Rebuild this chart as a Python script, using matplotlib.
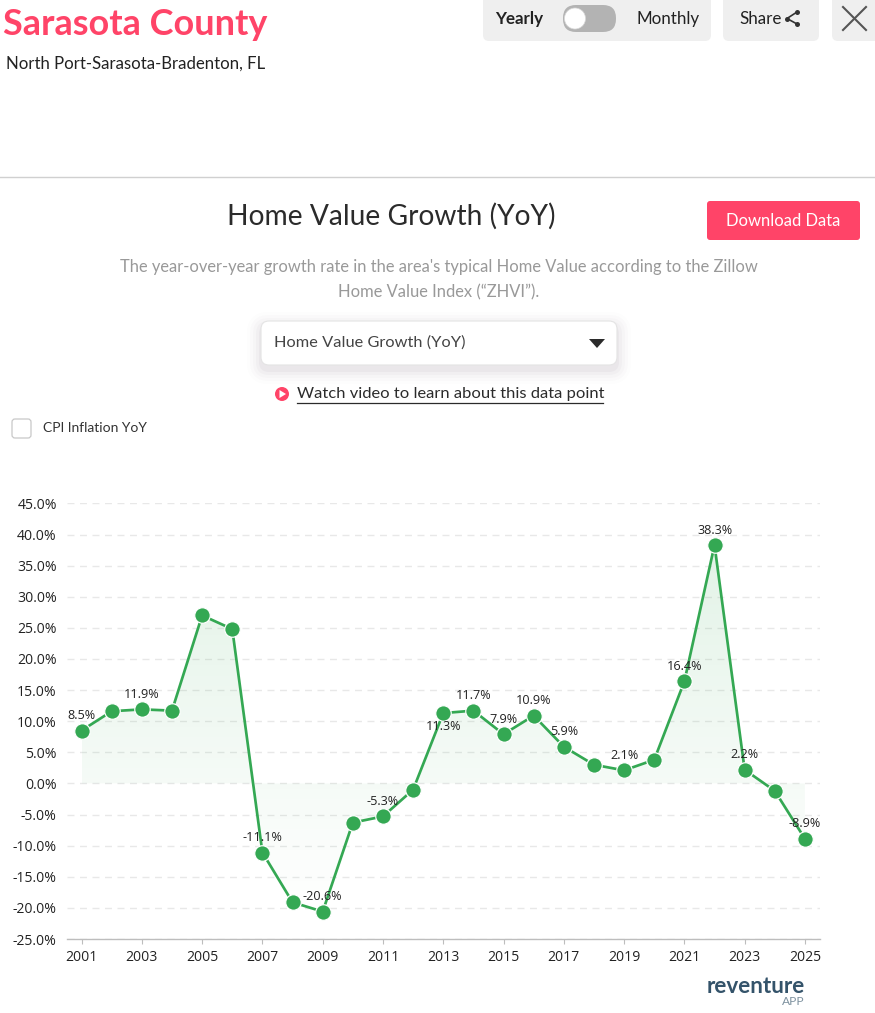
import numpy as np
import matplotlib
matplotlib.use('Agg')
import matplotlib.pyplot as plt
from matplotlib.patches import FancyBboxPatch, Circle, Polygon

# Chart data
years = list(range(2001, 2026))
growth = [8.5, 11.6, 11.9, 11.7, 27.0, 24.8, -11.1, -19.1, -20.6, -6.3, -5.3, -1.0,
          11.3, 11.7, 7.9, 10.9, 5.9, 3.0, 2.1, 3.8, 16.4, 38.3, 2.2, -1.2, -8.9]
labelled_years = [2001, 2003, 2007, 2009, 2011, 2013, 2014, 2015, 2016, 2017, 2019,
                  2021, 2022, 2023, 2025]
labels_below = [2013]
y_ticks = list(range(-25, 50, 5))
x_ticks = list(range(2001, 2026, 2))

W, H = 875, 1013
PINK = '#ff4468'
GREEN = '#34a853'
UI_FONT = ['Lato', 'DejaVu Sans']
CHART_FONT = ['Open Sans', 'DejaVu Sans']


def px(size):
    # css pixels to points at dpi 100
    return size * 0.72


fig = plt.figure(figsize=(W / 100, H / 100), dpi=100, facecolor='white')

# Overlay in pixel coordinates for the page furniture
ui = fig.add_axes([0, 0, 1, 1])
ui.set_xlim(0, W)
ui.set_ylim(H, 0)
ui.axis('off')


def box(x0, y0, x1, y1, color, radius=6, **kw):
    p = FancyBboxPatch((x0 + radius, y0 + radius), x1 - x0 - 2 * radius, y1 - y0 - 2 * radius,
                       boxstyle='round,pad=%g,rounding_size=%g' % (radius, radius),
                       facecolor=color, mutation_aspect=1, **kw)
    ui.add_patch(p)
    return p


def label(x, y, s, size, color='#333333', ha='left', weight='normal'):
    return ui.text(x, y + 1, s, fontsize=px(size), color=color, ha=ha, va='center',
                   family=UI_FONT, fontweight=weight)


# Header
label(3, 23, 'Sarasota County', 36, PINK, weight='bold')
label(6, 63, 'North Port-Sarasota-Bradenton, FL', 16.7, '#222222')

box(483, -10, 711, 41, '#efefef', edgecolor='none')
label(495, 17.5, 'Yearly', 17, '#222222', weight='bold')
box(563, 5, 616, 32, '#b3b3b3', radius=13, edgecolor='none')
ui.add_patch(Circle((575, 18.5), 10.5, facecolor='white', edgecolor='#d8d8d8', linewidth=0.5))
label(637, 17.5, 'Monthly', 17, '#222222')

box(723, -10, 819, 41, '#efefef', edgecolor='none')
label(739, 17.5, 'Share', 17, '#222222')
ui.plot([797, 787, 797], [12, 18.5, 24], color='#333333', lw=1.2)
ui.plot([797, 787, 797], [12, 18.5, 24], 'o', color='#333333', ms=3.6, mew=0)

box(832, -10, 885, 41, '#efefef', edgecolor='none')
ui.plot([843, 866], [7, 30], color='#555555', lw=1.5)
ui.plot([843, 866], [30, 7], color='#555555', lw=1.5)

ui.plot([0, W], [177, 177], color='#d0d0d0', lw=1)

# Title block
label(391, 215.5, 'Home Value Growth (YoY)', 28.1, '#2b2b2b', ha='center')
box(707, 201, 860, 240, PINK, radius=3, edgecolor='none')
label(783.5, 219.5, 'Download Data', 16.6, 'white', ha='center')
label(439, 265.5, "The year-over-year growth rate in the area's typical Home Value according to the Zillow",
      16.5, '#999999', ha='center')
label(439, 291.5, 'Home Value Index (\u201cZHVI\u201d).', 16.5, '#999999', ha='center')

# Dropdown with a soft shadow
for grow, alpha in [(14, 0.012), (11, 0.018), (8, 0.025), (5, 0.035), (2, 0.05)]:
    box(261 - grow, 321 - grow + 5, 617 + grow, 365 + grow + 5, '#6a5a7a', radius=8 + grow,
        edgecolor='none', alpha=alpha)
box(261, 321, 617, 365, 'white', radius=8, edgecolor='#e4e4e4', linewidth=0.8)
label(274, 341.5, 'Home Value Growth (YoY)', 16.4, '#444444')
ui.add_patch(Polygon([[589, 339], [605, 339], [597, 348]], facecolor='#2b2b2b', edgecolor='none'))

# Video link
ui.add_patch(Circle((282, 394), 7, facecolor=PINK, edgecolor='none'))
ui.add_patch(Polygon([[279.5, 390], [279.5, 398], [286, 394]], facecolor='white', edgecolor='none'))
label(297, 393, 'Watch video to learn about this data point', 16.45, '#2b2b2b')
ui.plot([297, 603], [402.5, 402.5], color='#2b2b2b', lw=0.9)

# Checkbox
box(12, 419, 31, 438, 'white', radius=3, edgecolor='#c8c8c8', linewidth=0.9)
label(43, 427, 'CPI Inflation YoY', 13.9, '#333333')

# Logo
label(805, 985.5, 'reventure', 22.5, '#34536a', ha='right', weight='bold')
label(805, 1000.5, 'APP', 12, '#7d919f', ha='right')

# Main chart, placed on the page by pixels
left, right, top, bottom = 66.5, 820, 503.4, 939
ax = fig.add_axes([left / W, 1 - bottom / H, (right - left) / W, (bottom - top) / H])
ax.patch.set_alpha(0)
ax.set_xlim(2000.5, 2025.5)
ax.set_ylim(-25, 45)

# Area between line and zero, fading downwards
area = ax.fill_between(years, growth, 0, facecolor='none', edgecolor='none')
fade = np.linspace(0.14, 0.0, 256).reshape(-1, 1)
rgba = np.ones((256, 1, 4))
rgba[:, :, :3] = matplotlib.colors.to_rgb(GREEN)
rgba[:, :, 3] = fade
grad = ax.imshow(rgba, extent=[years[0], years[-1], min(growth), max(growth)],
                 aspect='auto', origin='upper', zorder=1)
grad.set_clip_path(area.get_paths()[0], transform=ax.transData)
ax.set_xlim(2000.5, 2025.5)
ax.set_ylim(-25, 45)

ax.set_yticks(y_ticks)
ax.set_yticklabels(['%.1f%%' % t for t in y_ticks])
ax.set_xticks(x_ticks)
ax.set_xticklabels([str(t) for t in x_ticks])
ax.grid(axis='y', color='#e8e8e8', lw=1, dashes=(5, 4))
ax.set_axisbelow(True)
for name in ['top', 'right', 'left']:
    ax.spines[name].set_visible(False)
ax.spines['bottom'].set_color('#bdbdbd')
ax.spines['bottom'].set_linewidth(1)
ax.tick_params(axis='y', length=0, pad=7, labelsize=px(14), labelcolor='#222222')
ax.tick_params(axis='x', length=px(5), width=0.8, color='#bdbdbd', pad=4,
               labelsize=px(14), labelcolor='#222222')
for t in ax.get_xticklabels() + ax.get_yticklabels():
    t.set_family(CHART_FONT)

ax.plot(years, growth, color=GREEN, lw=px(2.7), marker='o', ms=px(15.5), mfc=GREEN,
        mec='white', mew=px(1.2), zorder=3, clip_on=False)

for yr, val in zip(years, growth):
    if yr not in labelled_years:
        continue
    below = yr in labels_below
    ax.annotate('%.1f%%' % val, (yr, val), xytext=(0, px(-13) if below else px(15)),
                textcoords='offset points', ha='center', va='center', fontsize=px(12.6),
                color='#222222', family=CHART_FONT, zorder=4, annotation_clip=False)

fig.savefig('out.png', dpi=100)
